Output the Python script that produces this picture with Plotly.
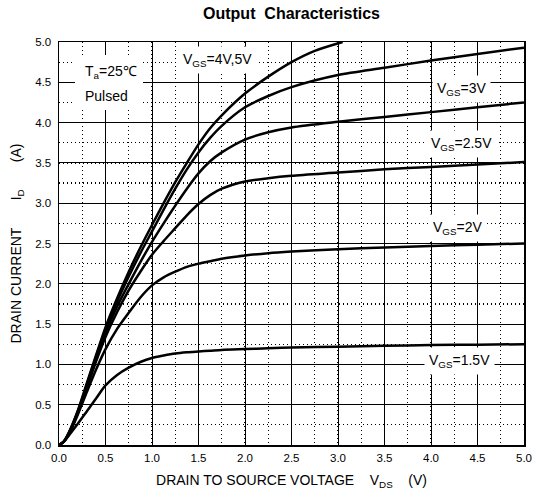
import plotly.graph_objects as go

# ---- data ----
X_TOP = [0, 0.05, 0.1, 0.2, 0.3, 0.4, 0.5, 0.625, 0.75, 0.875, 1.0, 1.125, 1.25, 1.375,
         1.5, 1.625, 1.75, 2.0, 2.25, 2.5, 2.75, 3.05]
I_TOP = [0, 0.04, 0.14, 0.42, 0.77, 1.12, 1.46, 1.82, 2.15, 2.45, 2.73, 3.00, 3.26, 3.50,
         3.73, 3.93, 4.09, 4.36, 4.57, 4.75, 4.89, 5.00]

X_VDS = [0, 0.05, 0.1, 0.2, 0.3, 0.4, 0.5, 0.625, 0.75, 0.875, 1.0, 1.125, 1.25, 1.375,
         1.5, 1.625, 1.75, 2.0, 2.25, 2.5, 3.0, 3.5, 4.0, 4.5, 5.0]
I_2ND = [0, 0.04, 0.14, 0.41, 0.75, 1.10, 1.43, 1.78, 2.09, 2.38, 2.65, 2.92, 3.18, 3.42,
         3.63, 3.81, 3.96, 4.19, 4.33, 4.44, 4.59, 4.68, 4.77, 4.85, 4.93]
I_3V = [0, 0.04, 0.13, 0.40, 0.73, 1.07, 1.39, 1.72, 2.00, 2.27, 2.52, 2.75, 2.97, 3.18,
        3.37, 3.52, 3.63, 3.79, 3.88, 3.94, 4.01, 4.07, 4.13, 4.19, 4.25]
I_25V = [0, 0.04, 0.12, 0.39, 0.71, 1.04, 1.34, 1.65, 1.92, 2.15, 2.36, 2.53, 2.69, 2.85,
         2.99, 3.10, 3.18, 3.27, 3.31, 3.34, 3.38, 3.42, 3.45, 3.48, 3.51]
I_2V = [0, 0.04, 0.12, 0.37, 0.66, 0.94, 1.19, 1.44, 1.64, 1.83, 1.98, 2.08, 2.15, 2.21,
        2.25, 2.28, 2.31, 2.35, 2.38, 2.40, 2.43, 2.45, 2.47, 2.485, 2.50]
I_15V = [0, 0.04, 0.11, 0.26, 0.42, 0.58, 0.74, 0.87, 0.96, 1.03, 1.08, 1.11, 1.135, 1.15,
         1.16, 1.17, 1.18, 1.19, 1.20, 1.21, 1.22, 1.23, 1.24, 1.245, 1.25]

TICK_VALS = [0, 0.5, 1.0, 1.5, 2.0, 2.5, 3.0, 3.5, 4.0, 4.5, 5.0]
TICK_TEXT = ["0.0", "0.5", "1.0", "1.5", "2.0", "2.5", "3.0", "3.5", "4.0", "4.5", "5.0"]

LABEL_TEXT = ["V<sub>GS</sub>=4V,5V", "V<sub>GS</sub>=3V", "V<sub>GS</sub>=2.5V",
              "V<sub>GS</sub>=2V", "V<sub>GS</sub>=1.5V"]
LABEL_X = [1.70, 4.33, 4.33, 4.28, 4.31]
LABEL_Y = [4.78, 4.42, 3.74, 2.69, 1.04]

FONT = "Arial, Liberation Sans, sans-serif"

fig = go.Figure()
curves = [(X_TOP, I_TOP), (X_VDS, I_2ND), (X_VDS, I_3V), (X_VDS, I_25V),
          (X_VDS, I_2V), (X_VDS, I_15V)]
for xs, ys in curves:
    fig.add_trace(go.Scatter(x=xs, y=ys, mode="lines",
                             line=dict(color="black", width=2.5, shape="spline", smoothing=0.8),
                             showlegend=False, hoverinfo="skip"))

for t, x, y in zip(LABEL_TEXT, LABEL_X, LABEL_Y):
    fig.add_annotation(x=x, y=y, xref="x", yref="y", text=t, showarrow=False,
                       font=dict(family=FONT, size=14, color="black"),
                       bgcolor="white", borderpad=4, xanchor="center", yanchor="middle")

# Ta / Pulsed box
fig.add_annotation(x=0.538, y=4.50, xref="x", yref="y", text="", showarrow=False,
                   width=68, height=55, bgcolor="white", borderpad=0, borderwidth=0)
fig.add_annotation(x=0.258, y=4.63, xref="x", yref="y", text="T<sub>a</sub>=25℃",
                   showarrow=False, xanchor="left", yanchor="middle",
                   font=dict(family=FONT, size=14, color="black"))
fig.add_annotation(x=0.258, y=4.33, xref="x", yref="y", text="Pulsed",
                   showarrow=False, xanchor="left", yanchor="middle",
                   font=dict(family=FONT, size=14, color="black"))

axis_common = dict(
    range=[0, 5], tickmode="array", tickvals=TICK_VALS, ticktext=TICK_TEXT,
    showgrid=True, gridcolor="black", gridwidth=1,
    minor=dict(dtick=0.25, showgrid=True, gridcolor="black", griddash="1px,3px", gridwidth=1.2),
    showline=True, linecolor="black", linewidth=1.5, mirror=True,
    zeroline=False, ticks="", tickfont=dict(family=FONT, size=11.5, color="black"),
    fixedrange=True, automargin=False, ticklabeloverflow="allow",
)

nb = "\u00a0"
fig.update_layout(
    width=533, height=498,
    margin=dict(l=59, r=9, t=42, b=53),
    paper_bgcolor="white", plot_bgcolor="white",
    title=dict(text="<b>Output" + nb + " Characteristics</b>", x=0.5, xref="paper",
               xanchor="center", y=0.974, yanchor="middle", yref="container",
               font=dict(family=FONT, size=16, color="black"), automargin=False),
    xaxis=dict(axis_common, ticklabelstandoff=2,
               title=dict(text="DRAIN TO SOURCE VOLTAGE" + nb * 4 + "V<sub>DS</sub>" + nb * 4 + "(V)",
                          font=dict(family=FONT, size=14, color="black"), standoff=12)),
    yaxis=dict(axis_common, ticklabelstandoff=4,
               title=dict(text="DRAIN CURRENT" + nb * 7 + "I<sub>D</sub>" + nb * 7 + "(A)",
                          font=dict(family=FONT, size=14, color="black"), standoff=10)),
)

# remove the default 8px page margin so the figure fills the 533x498 window exactly
fig.write_html("out.html",
               config={"displayModeBar": False, "staticPlot": True},
               post_script="document.body.style.margin='0px';document.body.style.overflow='hidden';")
